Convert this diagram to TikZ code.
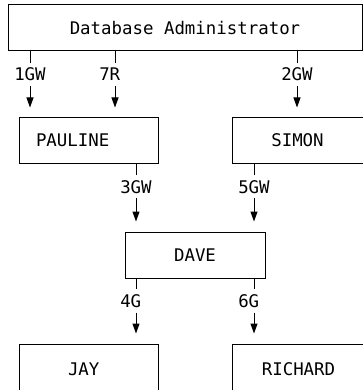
\documentclass[tikz,border=0pt]{standalone}
\usepackage{fontspec}
\setmonofont{DejaVu Sans Mono}
\usetikzlibrary{arrows.meta}
\begin{document}
\begin{tikzpicture}[x=1pt, y=-1pt,
        every node/.style={font=\ttfamily\fontsize{17.4}{20}\selectfont},
        box/.style={draw, line width=1pt, minimum height=46pt, inner sep=0pt},
        grant/.style={inner sep=0pt, text width=31.5pt, align=left,
            text height=13pt, text depth=0pt, minimum height=23pt},
        arr/.style={line width=1pt, -{Triangle[width=7pt,length=10pt]}, shorten >=10pt}]
    \useasboundingbox (0,0) rectangle (363,390);
    % users
    \node[box, minimum width=354pt] (dba) at (185,28) {Database Administrator};
    \node[box, minimum width=139pt, minimum height=45pt, text width=105pt,
        inner xsep=17pt, align=left] (pauline) at (88.5,140.5) {PAULINE};
    \node[box, minimum width=131pt, minimum height=45pt] (simon) at (297.5,140.5) {SIMON};
    \node[box, minimum width=140pt] (dave) at (195,255) {DAVE};
    \node[box, minimum width=139pt, minimum height=50pt, text width=41pt,
        inner xsep=49pt, align=left] (jay) at (88.5,369) {JAY};
    \node[box, minimum width=133pt, minimum height=50pt] (richard) at (298.5,369) {RICHARD};
    % grants
    \node[grant] (g1) at (30,74.5) {1GW};
    \node[grant] (g7) at (115,74.5) {7R};
    \node[grant] (g2) at (297,74.5) {2GW};
    \node[grant] (g3) at (136,186.5) {3GW};
    \node[grant] (g5) at (254,186.5) {5GW};
    \node[grant] (g4) at (136,301) {4G};
    \node[grant] (g6) at (254,301) {6G};
    % connectors
    \draw[line width=1pt] (dba.south -| g1) -- (g1);
    \draw[arr] (g1) -- (pauline.north -| g1);
    \draw[line width=1pt] (dba.south -| g7) -- (g7);
    \draw[arr] (g7) -- (pauline.north -| g7);
    \draw[line width=1pt] (dba.south -| g2) -- (g2);
    \draw[arr] (g2) -- (simon.north -| g2);
    \draw[line width=1pt] (pauline.south -| g3) -- (g3);
    \draw[arr] (g3) -- (dave.north -| g3);
    \draw[line width=1pt] (simon.south -| g5) -- (g5);
    \draw[arr] (g5) -- (dave.north -| g5);
    \draw[line width=1pt] (dave.south -| g4) -- (g4);
    \draw[arr] (g4) -- (jay.north -| g4);
    \draw[line width=1pt] (dave.south -| g6) -- (g6);
    \draw[arr] (g6) -- (richard.north -| g6);
\end{tikzpicture}
\end{document}
